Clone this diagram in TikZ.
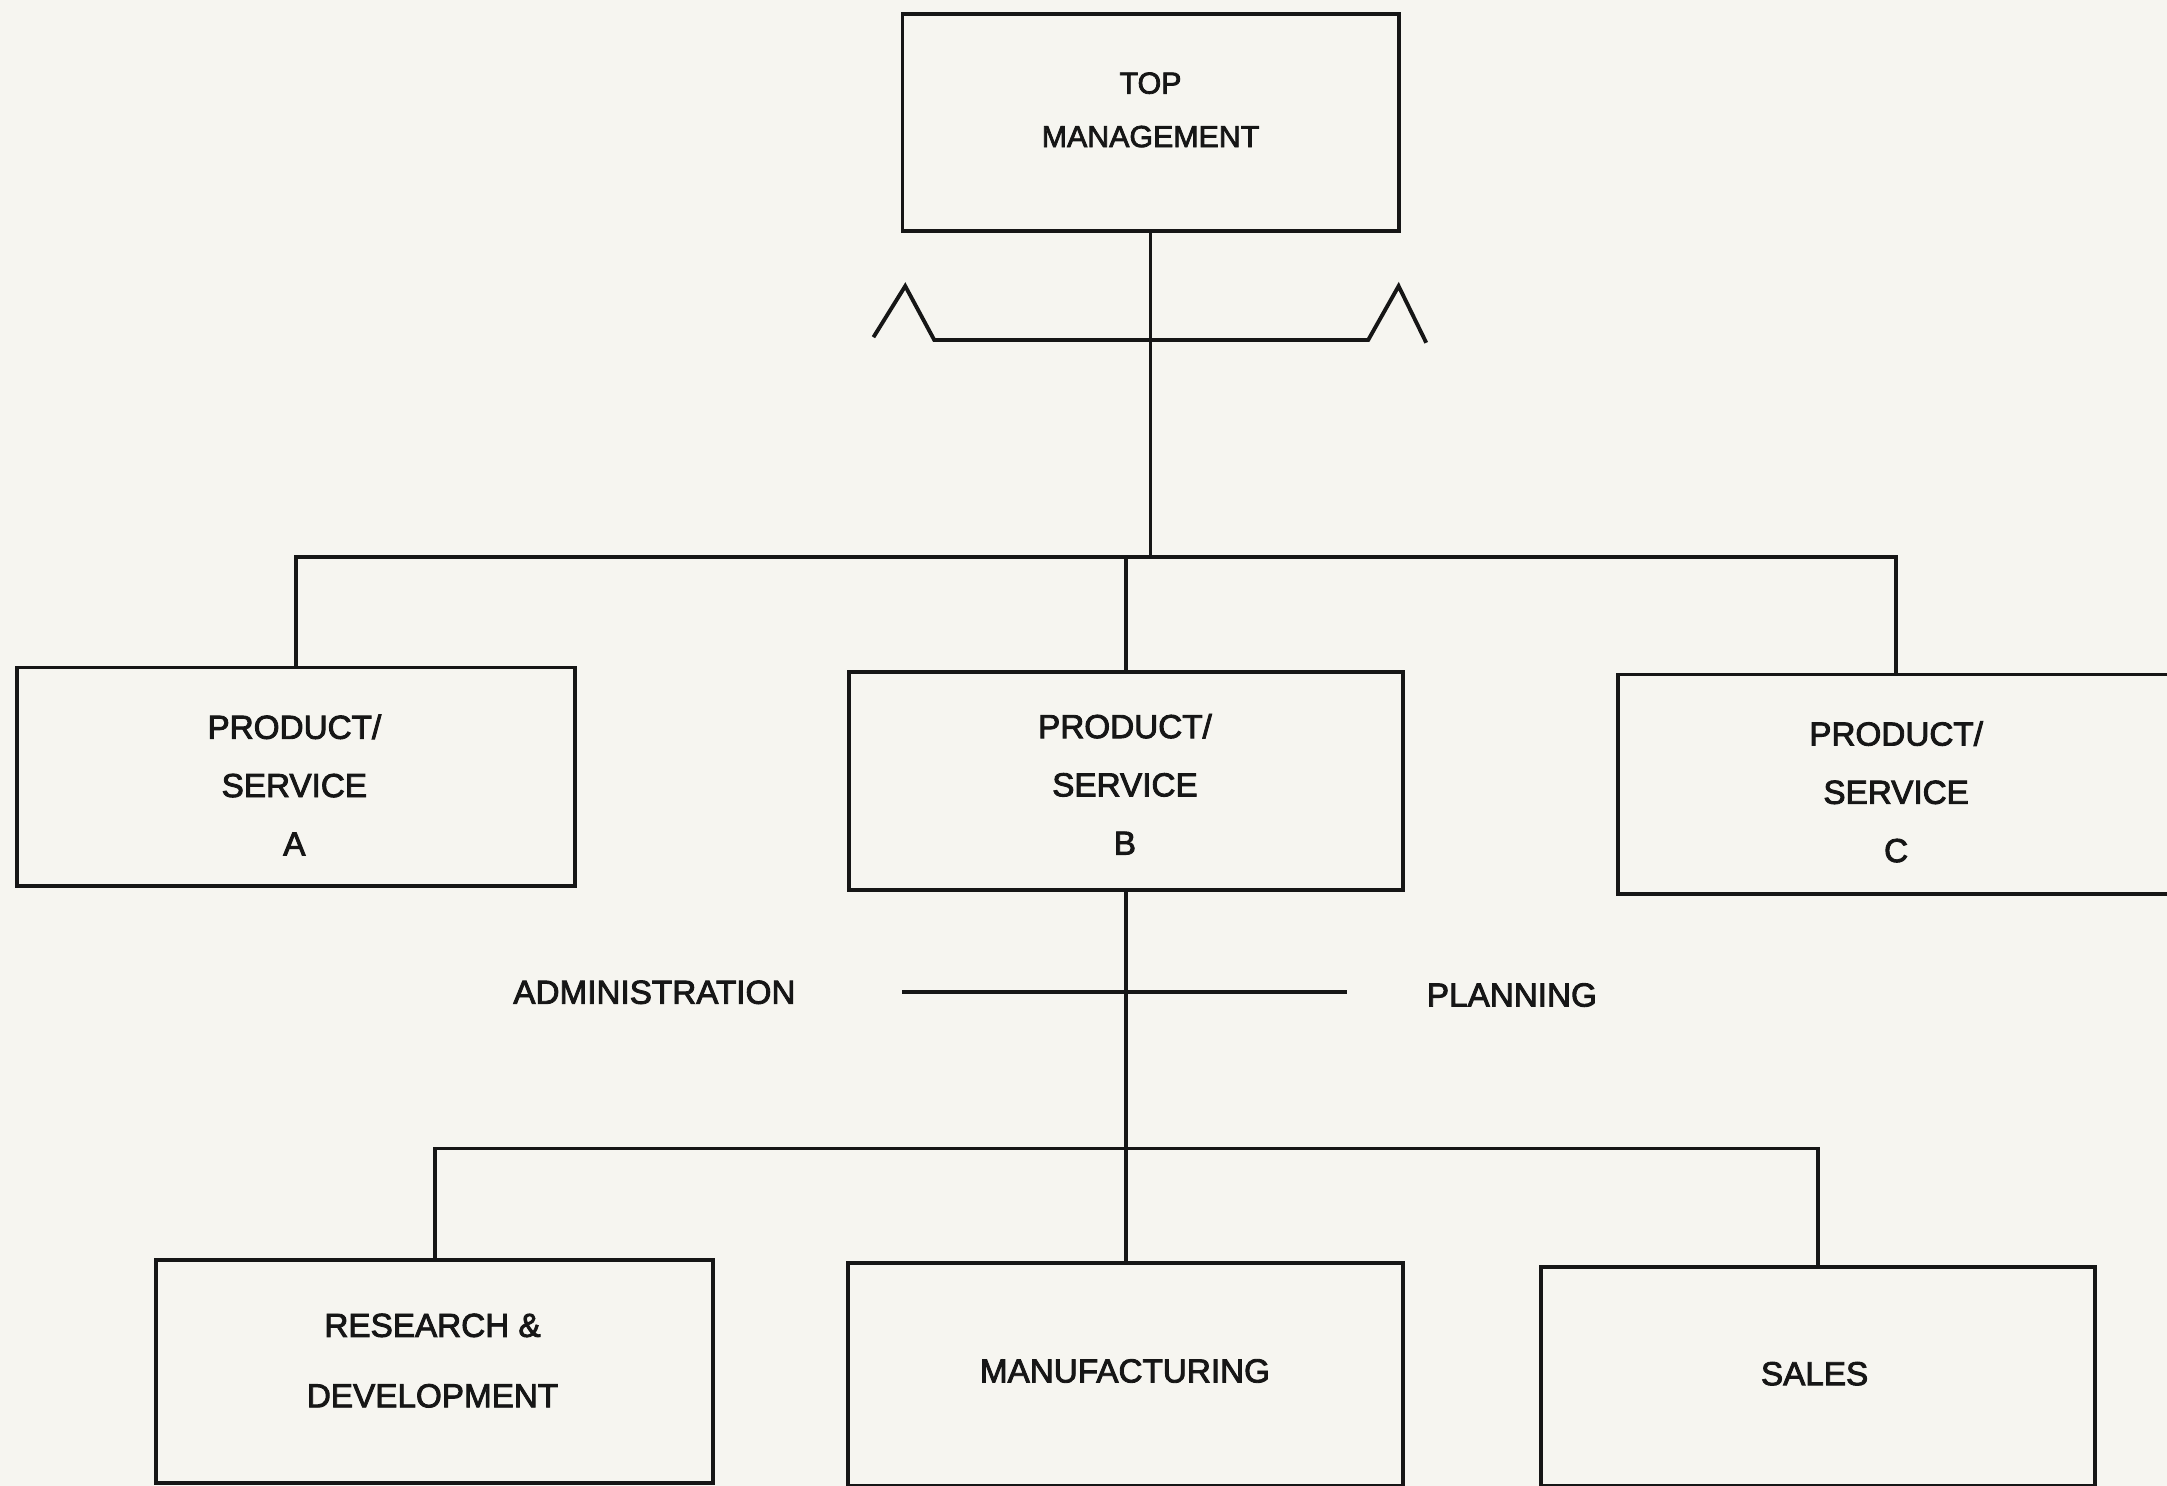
\documentclass[tikz,border=0pt]{standalone}
\usepackage{fontspec}
\setmainfont{Liberation Sans}[RawFeature={embolden=2.6}]
\definecolor{paper}{RGB}{246,245,240}
\definecolor{ink}{RGB}{22,22,22}
\begin{document}
\begin{tikzpicture}[x=0.02cm,y=-0.02cm,
  line width=1.6pt, draw=ink,
  unit/.style={draw=ink, rectangle, inner sep=0pt, outer sep=0pt},
  txt/.style={text=ink, align=center, inner sep=0pt,
    font=\fontsize{13.7pt}{24pt}\selectfont},
  lbl/.style={text=ink, inner sep=0pt, font=\fontsize{13.7pt}{16pt}\selectfont}]
% paper
\fill[paper] (0,0) rectangle (1568,1075);
\useasboundingbox (0,0) rectangle (1568,1075);

% boxes
\node[unit, minimum width=7.18cm, minimum height=3.14cm] (top) at (832.5,88.5) {};
\node[unit, minimum width=8.08cm, minimum height=3.16cm] (psA) at (214,562) {};
\node[unit, minimum width=8.02cm, minimum height=3.16cm] (psB) at (814.5,565) {};
\node[unit, minimum width=8.04cm, minimum height=3.18cm] (psC) at (1372,567.5) {};
\node[unit, minimum width=8.06cm, minimum height=3.22cm] (rd) at (314.5,992.5) {};
\node[unit, minimum width=8.04cm, minimum height=3.22cm] (mfg) at (814.5,994.5) {};
\node[unit, minimum width=8.02cm, minimum height=3.16cm] (sales) at (1315.5,996) {};

% box texts
\node[txt, font=\fontsize{12.5pt}{22pt}\selectfont] (topT) at (832.5,79.5) {TOP\\MANAGEMENT};
\node[txt] (psAT) at (213,568) {PRODUCT/\\SERVICE\\A};
\node[txt] (psBT) at (814,567.5) {PRODUCT/\\SERVICE\\B};
\node[txt] (psCT) at (1372,573) {PRODUCT/\\SERVICE\\C};
\node[txt, font=\fontsize{13.7pt}{29pt}\selectfont] (rdT) at (313,984.5) {RESEARCH \&\\DEVELOPMENT};
\node[txt] (mfgT) at (814,992) {MANUFACTURING};
\node[txt] (salesT) at (1313,994) {SALES};

% side labels of the staff line
\node[lbl] (adm) at (473.5,718) {ADMINISTRATION};
\node[lbl] (plan) at (1094,720) {PLANNING};

% connector levels
\coordinate (bus1) at (0,403);
\coordinate (bus2) at (0,831);

% top management to the product/service units
\draw (top.south) -- (top.south |- bus1);
\draw (psA.north) -- (psA.north |- bus1) -- (psC.north |- bus1) -- (psC.north);
\draw (psB.north) -- (psB.north |- bus1);

% staff bar with its two peaks
\draw[line join=miter] (632,244) -- (655,207) -- (676,246) -- (990,246)
  -- (1012,207) -- (1032,248);

% unit B down to its functions
\draw (psB.south) -- (mfg.north);
\draw (653,718) -- (975,718);
\draw (rd.north) -- (rd.north |- bus2) -- (sales.north |- bus2) -- (sales.north);
\end{tikzpicture}
\end{document}
